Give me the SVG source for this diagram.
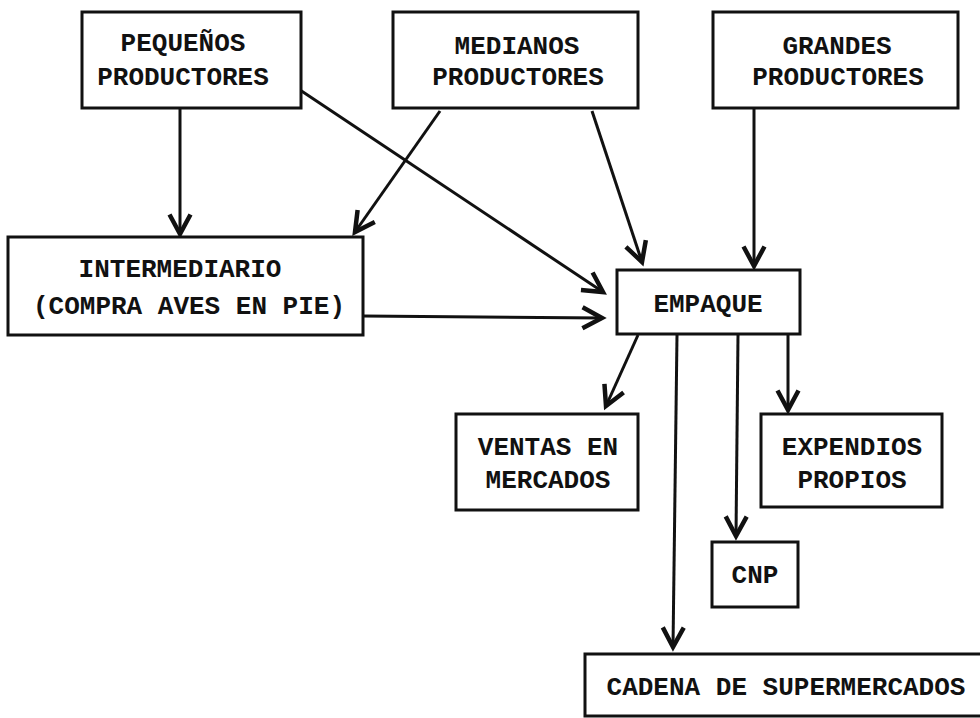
<svg xmlns="http://www.w3.org/2000/svg" width="980" height="718" viewBox="0 0 980 718">
  <style>
    .box { fill: #ffffff; stroke: #111; stroke-width: 3; }
    .lbl { font-family: "Liberation Mono", "Courier New", monospace; font-weight: bold; font-size: 26px; fill: #111; text-anchor: middle; }
    .edge { fill: none; stroke: #111; stroke-width: 3; marker-end: url(#arrow); }
  </style>
  <defs>
    <marker id="arrow" markerUnits="userSpaceOnUse" markerWidth="30" markerHeight="30" viewBox="-16 -10 20 20" refX="0" refY="0" orient="auto">
      <path d="M-13,-7 L0,0 L-13,7" fill="none" stroke="#111" stroke-width="3" stroke-linejoin="miter"/>
    </marker>
  </defs>
  <rect width="980" height="718" fill="#ffffff"/>

  <g id="connectors">
    <path class="edge" d="M180,108 L180,234"/>
    <path class="edge" d="M300,90 L603,292"/>
    <path class="edge" d="M440,111 L355,232"/>
    <path class="edge" d="M592,111 L642,262"/>
    <path class="edge" d="M754,108 L754,266"/>
    <path class="edge" d="M363,316 L602,318"/>
    <path class="edge" d="M638,335 L606,406"/>
    <path class="edge" d="M677,335 L673,647"/>
    <path class="edge" d="M738,335 L736,536"/>
    <path class="edge" d="M788,335 L788,410"/>
  </g>

  <g id="pequenos">
    <rect class="box" x="82" y="12" width="219" height="96"/>
    <text class="lbl" x="183" y="51">PEQUEÑOS</text>
    <text class="lbl" x="183" y="85">PRODUCTORES</text>
  </g>
  <g id="medianos">
    <rect class="box" x="393" y="12" width="245" height="96"/>
    <text class="lbl" x="517" y="54">MEDIANOS</text>
    <text class="lbl" x="518" y="85">PRODUCTORES</text>
  </g>
  <g id="grandes">
    <rect class="box" x="713" y="12" width="245" height="96"/>
    <text class="lbl" x="837" y="54">GRANDES</text>
    <text class="lbl" x="838" y="85">PRODUCTORES</text>
  </g>
  <g id="intermediario">
    <rect class="box" x="8" y="237" width="355" height="98"/>
    <text class="lbl" x="180" y="277">INTERMEDIARIO</text>
    <text class="lbl" x="189" y="314">(COMPRA AVES EN PIE)</text>
  </g>
  <g id="empaque">
    <rect class="box" x="617" y="270" width="183" height="64"/>
    <text class="lbl" x="708" y="312">EMPAQUE</text>
  </g>
  <g id="ventas">
    <rect class="box" x="456" y="414" width="182" height="96"/>
    <text class="lbl" x="548" y="455">VENTAS EN</text>
    <text class="lbl" x="548" y="488">MERCADOS</text>
  </g>
  <g id="expendios">
    <rect class="box" x="761" y="414" width="181" height="93"/>
    <text class="lbl" x="852" y="455">EXPENDIOS</text>
    <text class="lbl" x="852" y="488">PROPIOS</text>
  </g>
  <g id="cnp">
    <rect class="box" x="712" y="542" width="86" height="65"/>
    <text class="lbl" x="755" y="583">CNP</text>
  </g>
  <g id="cadena">
    <rect class="box" x="585" y="654" width="410" height="62"/>
    <text class="lbl" x="786" y="695">CADENA DE SUPERMERCADOS</text>
  </g>
</svg>
